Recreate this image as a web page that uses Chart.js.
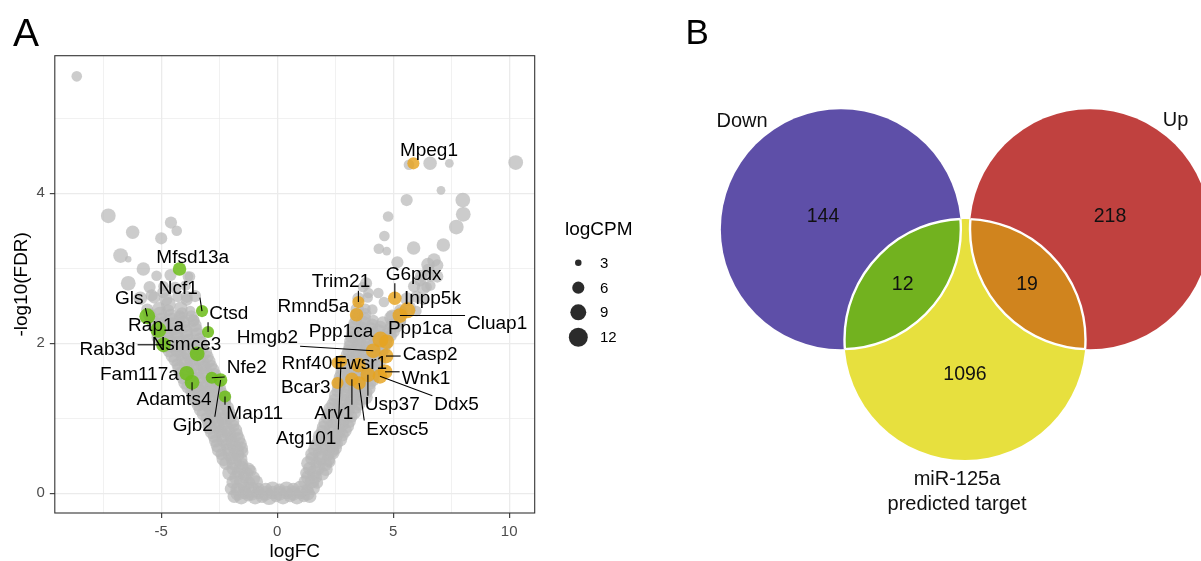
<!DOCTYPE html>
<html>
<head>
<meta charset="utf-8">
<script src="https://cdn.jsdelivr.net/npm/chart.js"></script>
<style>
  html, body { margin: 0; padding: 0; background: #fff; }
  #wrap { position: relative; width: 1201px; height: 561px; overflow: hidden; }
  #volcano { position: absolute; left: 0; top: 0; width: 660px; height: 561px; }
  #venn { position: absolute; left: 660px; top: 0; width: 541px; height: 561px; }
</style>
</head>
<body>
<div id="wrap">
  <canvas id="volcano" width="660" height="561"></canvas>
  <canvas id="venn" width="541" height="561"></canvas>
</div>
<script>
var FONT = '"Liberation Sans", Arial, Helvetica, sans-serif';

// ---- panel A: volcano, [logFC, -log10(FDR), logCPM]
var grayPoints = [
  // bottom of the V
  [-1.85,-0.04,7],[-1.55,-0.05,8],[-1.25,-0.03,6],[-0.95,-0.05,8],[-0.65,-0.04,7],[-0.35,-0.05,9],[-0.05,-0.04,6],[0.25,-0.05,8],[0.55,-0.03,7],[0.85,-0.05,8],[1.15,-0.04,6],[1.4,-0.04,7],
  [-1.7,0.0,8],[-1.4,0.01,7],[-1.1,0.0,8],[-0.8,0.01,7],[-0.5,0.0,8],[-0.2,0.01,7],[0.1,0.0,8],[0.4,0.01,7],[0.7,0.0,8],[1.0,0.01,7],[1.3,0.0,8],
  [-2.0,0.06,6],[-1.7,0.05,8],[-1.4,0.07,7],[-1.1,0.05,9],[-0.8,0.06,6],[-0.5,0.05,7],[-0.2,0.06,8],[0.1,0.05,6],[0.4,0.06,8],[0.7,0.05,7],[1.0,0.06,9],[1.3,0.05,6],[1.55,0.07,7],
  // left arm
  [-1.9,0.15,7],[-1.55,0.16,8],[-1.2,0.14,6],[-0.9,0.15,7],
  [-1.75,0.21,8],[-1.4,0.22,7],[-1.05,0.2,8],
  [-2.05,0.27,8],[-1.7,0.28,6],[-1.35,0.26,8],[-1.15,0.3,6],
  [-1.9,0.33,7],[-1.55,0.34,8],[-1.25,0.32,7],
  [-2.2,0.4,7],[-1.85,0.41,9],[-1.5,0.39,6],
  [-2.3,0.46,8],[-1.95,0.47,7],[-1.6,0.45,8],
  [-2.4,0.52,6],[-2.05,0.53,8],[-1.7,0.51,7],[-1.5,0.55,6],
  [-2.5,0.58,8],[-2.1,0.59,7],[-1.75,0.57,8],[-1.55,0.6,7],
  [-2.55,0.64,8],[-2.2,0.65,6],[-1.85,0.63,8],[-1.6,0.66,7],
  [-2.65,0.7,7],[-2.3,0.71,8],[-1.95,0.69,7],[-1.7,0.72,8],
  [-2.7,0.76,7],[-2.35,0.77,8],[-2.0,0.75,6],[-1.75,0.78,7],
  [-2.8,0.82,8],[-2.45,0.83,7],[-2.1,0.81,8],[-1.8,0.84,7],
  [-2.9,0.88,8],[-2.55,0.89,7],[-2.2,0.87,9],[-1.88,0.9,6],
  [-2.95,0.94,7],[-2.6,0.95,8],[-2.25,0.93,7],[-1.95,0.96,8],
  [-3.05,1.0,6],[-2.7,1.01,8],[-2.35,0.99,7],[-2.0,1.02,6],
  [-3.15,1.06,8],[-2.8,1.07,7],[-2.45,1.05,8],[-2.1,1.08,7],
  [-3.28,1.12,8],[-2.92,1.13,6],[-2.55,1.11,8],[-2.15,1.14,7],
  [-3.4,1.18,7],[-3.05,1.19,8],[-2.7,1.17,7],[-2.3,1.2,8],
  [-3.5,1.24,7],[-3.15,1.25,9],[-2.8,1.23,6],[-2.45,1.26,8],[-2.25,1.22,6],
  [-3.6,1.3,8],[-3.25,1.31,7],[-2.9,1.29,8],[-2.55,1.32,7],[-2.3,1.28,8],
  [-3.7,1.36,6],[-3.35,1.37,8],[-3.0,1.35,7],[-2.65,1.38,8],[-2.4,1.34,6],
  [-3.85,1.42,7],[-3.5,1.43,8],[-3.15,1.41,7],[-2.8,1.44,8],[-2.5,1.4,7],
  [-3.95,1.48,8],[-3.6,1.49,6],[-3.25,1.47,8],[-2.9,1.5,7],[-2.55,1.46,6],
  [-4.05,1.54,7],[-3.7,1.55,8],[-3.35,1.53,7],[-3.0,1.56,8],[-2.65,1.52,7],
  [-4.15,1.6,7],[-3.8,1.61,8],[-3.45,1.59,6],[-3.1,1.62,8],[-2.7,1.58,7],
  [-4.2,1.66,8],[-3.85,1.67,7],[-3.5,1.65,8],[-3.15,1.68,7],[-2.8,1.64,8],
  [-4.3,1.72,6],[-3.95,1.73,8],[-3.6,1.71,7],[-3.25,1.74,9],[-2.85,1.7,6],
  [-4.4,1.78,7],[-4.05,1.79,8],[-3.7,1.77,7],[-3.35,1.8,8],[-2.95,1.76,7],
  [-4.5,1.84,8],[-4.15,1.85,6],[-3.8,1.83,8],[-3.4,1.86,7],[-3.0,1.82,6],
  [-4.65,1.9,7],[-4.3,1.91,8],[-3.95,1.89,7],[-3.55,1.92,8],[-3.1,1.88,7],
  [-4.85,1.96,7],[-4.5,1.97,8],[-4.1,1.95,6],[-3.7,1.98,8],[-3.2,1.94,6],
  [-4.95,2.02,8],[-4.6,2.03,7],[-4.2,2.01,8],[-3.8,2.04,7],[-3.3,2.0,8],
  [-5.1,2.08,8],[-4.7,2.09,6],[-4.3,2.07,8],[-3.9,2.1,7],[-3.35,2.06,6],
  [-5.15,2.14,7],[-4.75,2.15,8],[-4.35,2.13,7],[-3.95,2.16,8],[-3.45,2.12,7],
  [-5.25,2.2,6],[-4.85,2.21,8],[-4.45,2.19,7],[-4.0,2.22,6],[-3.5,2.18,7],
  [-5.3,2.26,8],[-4.9,2.27,7],[-4.5,2.25,8],[-4.05,2.28,7],[-3.55,2.24,7],
  [-5.4,2.32,7],[-5.0,2.33,6],[-4.55,2.31,8],[-4.1,2.34,6],[-3.6,2.3,6],
  [-5.5,2.38,7],[-5.05,2.39,8],[-4.6,2.37,7],[-4.1,2.4,6],[-3.7,2.36,6],
  [-5.6,2.45,6],[-5.1,2.46,7],[-4.7,2.44,6],[-4.15,2.47,7],[-3.75,2.43,5],
  [-5.9,2.6,7],[-5.3,2.61,6],[-4.8,2.59,7],[-4.3,2.62,5],[-3.9,2.58,6],
  [-5.5,2.75,6],[-4.9,2.76,5],[-4.4,2.74,6],[-3.95,2.77,5],
  [-5.2,2.9,5],[-4.6,2.91,6],[-3.85,2.89,5],
  // right arm
  [1.2,0.15,7],[1.5,0.16,8],[1.72,0.14,6],
  [1.35,0.21,8],[1.65,0.22,7],
  [1.25,0.27,6],[1.6,0.28,8],[1.95,0.26,7],
  [1.4,0.33,7],[1.75,0.34,8],[2.1,0.32,7],
  [1.35,0.4,8],[1.7,0.41,6],[2.05,0.39,8],[2.25,0.42,6],
  [1.5,0.46,7],[1.85,0.47,8],[2.2,0.45,7],
  [1.5,0.52,7],[1.85,0.53,8],[2.2,0.51,6],[2.4,0.54,7],
  [1.65,0.58,8],[2.0,0.59,7],[2.35,0.57,8],[2.5,0.6,7],
  [1.65,0.64,6],[2.0,0.65,8],[2.35,0.63,7],[2.57,0.66,6],
  [1.8,0.7,7],[2.15,0.71,8],[2.45,0.69,7],[2.7,0.72,8],
  [1.85,0.76,8],[2.2,0.77,6],[2.5,0.75,8],[2.8,0.78,7],
  [1.95,0.82,7],[2.3,0.83,8],[2.65,0.81,7],[2.9,0.84,8],
  [2.0,0.88,7],[2.35,0.89,8],[2.7,0.87,6],[3.0,0.9,8],
  [2.1,0.94,8],[2.45,0.95,7],[2.8,0.93,8],[3.1,0.96,7],
  [2.15,1.0,6],[2.5,1.01,8],[2.85,0.99,7],[3.2,1.02,6],
  [2.25,1.06,7],[2.6,1.07,8],[2.95,1.05,7],[3.3,1.08,8],
  [2.3,1.12,8],[2.65,1.13,7],[3.0,1.11,9],[3.4,1.14,6],
  [2.4,1.18,7],[2.75,1.19,8],[3.1,1.17,7],[3.5,1.2,8],
  [2.5,1.24,7],[2.85,1.25,6],[3.2,1.23,8],[3.6,1.26,7],
  [2.55,1.3,8],[2.9,1.31,7],[3.25,1.29,8],[3.6,1.32,7],[3.8,1.28,8],
  [2.6,1.36,6],[2.95,1.37,8],[3.3,1.35,7],[3.65,1.38,8],[3.85,1.34,6],
  [2.65,1.42,7],[3.0,1.43,8],[3.35,1.41,7],[3.7,1.44,8],[3.95,1.4,7],
  [2.7,1.48,8],[3.05,1.49,6],[3.4,1.47,8],[3.75,1.5,7],[4.0,1.46,6],
  [2.75,1.54,8],[3.1,1.55,7],[3.45,1.53,8],[3.8,1.56,7],[4.1,1.52,8],
  [2.8,1.6,7],[3.15,1.61,8],[3.5,1.59,6],[3.85,1.62,8],[4.15,1.58,7],
  [2.85,1.66,8],[3.2,1.67,7],[3.55,1.65,8],[3.9,1.68,7],[4.25,1.64,8],
  [2.95,1.72,6],[3.3,1.73,8],[3.65,1.71,7],[4.0,1.74,9],[4.3,1.7,6],
  [3.0,1.78,7],[3.35,1.79,8],[3.7,1.77,7],[4.05,1.8,8],[4.4,1.76,7],
  [3.05,1.84,8],[3.4,1.85,6],[3.75,1.83,8],[4.1,1.86,7],[4.45,1.82,6],
  [3.1,1.9,7],[3.45,1.91,8],[3.8,1.89,7],[4.15,1.92,8],[4.5,1.88,7],
  [3.15,1.96,7],[3.5,1.97,8],[3.85,1.95,6],[4.2,1.98,8],[4.6,1.94,7],
  [3.2,2.02,8],[3.55,2.03,7],[3.9,2.01,8],[4.25,2.04,7],[4.65,2.0,8],
  [3.2,2.08,6],[3.55,2.09,8],[3.9,2.07,7],[4.3,2.1,6],[4.65,2.06,8],[4.9,2.1,6],
  [3.25,2.14,7],[3.6,2.15,8],[3.95,2.13,7],[4.35,2.16,8],[4.75,2.12,7],[5.0,2.16,7],
  [3.3,2.2,8],[3.65,2.21,6],[4.05,2.19,7],[4.45,2.22,6],[4.85,2.18,7],[5.15,2.22,6],
  [3.35,2.26,7],[3.7,2.27,8],[4.1,2.25,6],[4.55,2.28,6],[4.95,2.24,7],[5.25,2.28,7],
  [3.4,2.32,6],[3.75,2.33,7],[4.15,2.31,5],[4.9,2.34,7],[5.3,2.3,6],
  [3.45,2.38,7],[3.8,2.39,6],[4.95,2.37,6],[5.35,2.4,7],
  [3.45,2.45,7],[3.8,2.46,5],[5.3,2.44,6],[5.7,2.47,7],[6.0,2.43,5],
  [3.5,2.6,6],[3.9,2.61,5],[5.6,2.59,7],[6.0,2.62,6],[6.3,2.58,5],
  [3.7,2.75,5],[5.9,2.76,6],[6.3,2.74,7],[6.6,2.77,5],
  [6.2,2.9,6],[6.6,2.91,7],[6.9,2.89,6],
  [6.5,3.05,7],[6.9,3.04,6],
  // scattered genes, left
  [-8.64,5.56,5],[-7.28,3.7,8],[-6.23,3.48,7],[-4.58,3.61,6],[-4.33,3.5,5],[-5.0,3.4,6],
  [-6.75,3.17,8],[-6.42,3.12,3],[-5.77,2.99,7],[-6.42,2.8,8],[-5.41,2.64,6],[-4.69,2.52,8],
  [-3.9,2.62,6],[-3.54,2.63,6],[-3.76,2.89,5],[-4.91,2.68,6],[-4.19,2.36,6],[-3.62,2.31,6],
  // scattered genes, right
  [5.68,4.38,5],[6.59,4.4,7],[7.42,4.4,4],[10.28,4.41,8],[7.06,4.04,4],[5.58,3.91,6],
  [8.0,3.91,8],[8.02,3.72,8],[7.72,3.55,8],[4.78,3.69,5],[4.62,3.43,5],[5.88,3.27,7],
  [7.16,3.31,7],[4.38,3.26,5],[4.72,3.23,4],[6.76,3.11,7],[6.51,2.98,6],[5.18,3.08,6],
  [3.83,2.8,6],[3.93,2.67,5],[4.36,2.67,5],[6.16,2.84,6],[6.44,2.75,5],[4.6,2.55,5],[4.1,2.45,5]
];

// down-regulated predicted targets (green)
var downNames = ['Mfsd13a', 'Ncf1', 'Gls', 'Ctsd', 'Rap1a', 'Rab3d', 'Nsmce3', 'Fam117a', 'Adamts4', 'Nfe2', 'Gjb2', 'Map11'];
var downLogFC = [-4.21, -3.24, -5.6, -2.98, -5.12, -4.9, -3.45, -3.9, -3.67, -2.82, -2.44, -2.25];
var downFDR = [2.99, 2.43, 2.36, 2.15, 2.18, 1.98, 1.86, 1.6, 1.48, 1.54, 1.51, 1.29];
var downCPM = [7, 6, 9, 6, 9, 8, 8, 8, 8, 6, 7, 6];
var downLabelX = [-3.64, -4.26, -6.38, -2.09, -5.22, -7.31, -3.91, -5.94, -4.45, -1.31, -3.64, -0.97];
var downLabelY = [3.14, 2.73, 2.59, 2.4, 2.23, 1.91, 1.98, 1.58, 1.25, 1.67, 0.9, 1.06];

// up-regulated predicted targets (orange)
var upNames = ['Mpeg1', 'Trim21', 'G6pdx', 'Inpp5k', 'Rmnd5a', 'Cluap1', 'Ppp1ca', 'Ppp1ca', 'Hmgb2', 'Casp2',
  'Rnf40', 'Ewsr1', 'Wnk1', 'Bcar3', 'Ddx5', 'Usp37', 'Arv1', 'Exosc5', 'Atg101'];
var upLogFC = [5.87, 3.5, 5.07, 5.61, 3.42, 5.29, 4.45, 4.72, 4.14, 4.69, 2.6, 3.5, 4.65, 2.6, 4.43, 3.91, 3.22, 3.53, 2.75];
var upFDR = [4.4, 2.55, 2.6, 2.44, 2.38, 2.37, 2.05, 2.02, 1.9, 1.83, 1.74, 1.71, 1.62, 1.47, 1.56, 1.58, 1.52, 1.47, 1.76];
var upCPM = [6, 6, 7, 9, 7, 8, 9, 8, 8, 8, 6, 8, 8, 6, 8, 8, 7, 7, 6];
var upLabelX = [6.54, 2.75, 5.88, 6.69, 1.56, 9.48, 2.75, 6.16, -0.42, 6.59, 1.28, 3.6, 6.41, 1.23, 7.73, 4.96, 2.44, 5.18, 1.25];
var upLabelY = [4.57, 2.82, 2.92, 2.59, 2.49, 2.26, 2.15, 2.2, 2.08, 1.85, 1.73, 1.73, 1.53, 1.41, 1.18, 1.18, 1.06, 0.85, 0.73];

var xTicks = [-7.5, -5, -2.5, 0, 2.5, 5, 7.5, 10];
var yTicks = [0, 1, 2, 3, 4, 5];
var legendCPM = [3, 6, 9, 12];

// ---- panel B: Venn
var vennSets = ['Down', 'Up', 'miR-125a', 'predicted target'];
var vennCounts = [144, 218, 1096, 12, 19];   // down only, up only, target only, down & target, up & target

// layout of the Venn (canvas units)
var vennCX = [180.85, 430, 305], vennCY = [229.2, 229.2, 339.5], vennR = [120, 120, 120.5];
var vennColors = ['#5E4FA8', '#C0413F', '#E7E03E'];
var vennCountX = [163, 450, 305, 242.7, 367], vennCountY = [216.7, 216.7, 374.3, 285, 284.3];
var vennSetX = [82, 515.5, 297, 297], vennSetY = [121.7, 120, 479, 504.3];

function sizeOf(cpm) { return Math.sqrt(Math.max(0.5, 8.8 * (cpm - 1.8))); }

function toPts(xs, ys, cs) {
  return xs.map(function (x, i) { return { x: x, y: ys[i], cpm: cs[i] }; });
}

function isMajorX(v) { return Math.abs(v % 5) < 1e-9; }
function isMajorY(v) { return Math.abs(v % 2) < 1e-9; }

function drawGeneLabels(ctx, xs, ys, names, fc, fdr, lx, ly) {
  ctx.font = '19px ' + FONT;
  ctx.strokeStyle = '#000';
  ctx.lineWidth = 1.1;
  for (var i = 0; i < names.length; i++) {
    var px = xs.getPixelForValue(fc[i]), py = ys.getPixelForValue(fdr[i]);
    var cx = xs.getPixelForValue(lx[i]), cy = ys.getPixelForValue(ly[i]);
    var w = ctx.measureText(names[i]).width / 2 + 2, h = 9;
    var qx = Math.min(Math.max(px, cx - w), cx + w);
    var qy = Math.min(Math.max(py, cy - h), cy + h);
    if (Math.hypot(px - qx, py - qy) > 6) {
      ctx.beginPath(); ctx.moveTo(qx, qy); ctx.lineTo(px, py); ctx.stroke();
    }
  }
  ctx.fillStyle = '#000';
  ctx.textAlign = 'center';
  ctx.textBaseline = 'middle';
  for (var j = 0; j < names.length; j++) {
    ctx.fillText(names[j], xs.getPixelForValue(lx[j]), ys.getPixelForValue(ly[j]));
  }
}

var volcanoDecor = {
  id: 'volcanoDecor',
  afterDatasetsDraw: function (chart) {
    var ctx = chart.ctx, xs = chart.scales.x, ys = chart.scales.y;
    ctx.save();
    drawGeneLabels(ctx, xs, ys, downNames, downLogFC, downFDR, downLabelX, downLabelY);
    drawGeneLabels(ctx, xs, ys, upNames, upLogFC, upFDR, upLabelX, upLabelY);
    ctx.restore();
  },
  afterDraw: function (chart) {
    var ctx = chart.ctx, a = chart.chartArea;
    ctx.save();
    ctx.strokeStyle = '#333';
    ctx.lineWidth = 1.1;
    ctx.strokeRect(a.left, a.top, a.right - a.left, a.bottom - a.top);

    // size legend
    ctx.fillStyle = '#000';
    ctx.textAlign = 'left';
    ctx.textBaseline = 'middle';
    ctx.font = '19px ' + FONT;
    ctx.fillText('logCPM', 565, 230);
    var ly = [262.7, 287.7, 312.3, 337.3];
    ctx.font = '15px ' + FONT;
    legendCPM.forEach(function (v, i) {
      ctx.beginPath();
      ctx.arc(578.3, ly[i], sizeOf(v), 0, Math.PI * 2);
      ctx.fillStyle = 'rgba(20,20,20,0.9)';
      ctx.fill();
      ctx.fillStyle = '#000';
      ctx.fillText(String(v), 600, ly[i] + 1);
    });

    ctx.font = '39px ' + FONT;
    ctx.textBaseline = 'alphabetic';
    ctx.fillText('A', 13, 46);
    ctx.restore();
  }
};

new Chart(document.getElementById('volcano'), {
  type: 'scatter',
  data: {
    datasets: [
      { data: grayPoints.map(function (p) { return { x: p[0], y: p[1], cpm: p[2] }; }),
        backgroundColor: 'rgba(185,185,185,0.72)', order: 3 },
      { data: toPts(downLogFC, downFDR, downCPM), backgroundColor: 'rgba(112,190,30,0.88)', order: 2 },
      { data: toPts(upLogFC, upFDR, upCPM), backgroundColor: 'rgba(230,163,32,0.82)', order: 1 }
    ]
  },
  options: {
    responsive: false,
    animation: false,
    events: [],
    layout: { padding: { left: 0, top: 55.7, right: 125.3, bottom: 0 } },
    elements: {
      point: {
        radius: function (c) { return c.raw ? sizeOf(c.raw.cpm) : 3; },
        borderWidth: 0
      }
    },
    plugins: { legend: { display: false }, tooltip: { enabled: false } },
    scales: {
      x: {
        type: 'linear', min: -9.586, max: 11.099,
        afterBuildTicks: function (s) { s.ticks = xTicks.map(function (v) { return { value: v }; }); },
        afterFit: function (s) { s.height = 48; },
        border: { display: false },
        grid: {
          color: '#EBEBEB',
          lineWidth: function (c) { return c.tick && isMajorX(c.tick.value) ? 1.3 : 0.7; },
          tickLength: 5, tickWidth: 1.1,
          tickColor: function (c) { return c.tick && isMajorX(c.tick.value) ? '#333' : 'rgba(0,0,0,0)'; }
        },
        ticks: {
          autoSkip: false, maxRotation: 0, padding: 5, color: '#4D4D4D',
          font: { family: FONT, size: 15 },
          callback: function (v) { return isMajorX(v) ? String(v) : ''; }
        },
        title: { display: true, text: 'logFC', color: '#000', font: { family: FONT, size: 19, lineHeight: 1 }, padding: 0 }
      },
      y: {
        type: 'linear', min: -0.263, max: 5.835,
        afterBuildTicks: function (s) { s.ticks = yTicks.map(function (v) { return { value: v }; }); },
        afterFit: function (s) { s.width = 54.8; },
        border: { display: false },
        grid: {
          color: '#EBEBEB',
          lineWidth: function (c) { return c.tick && isMajorY(c.tick.value) ? 1.3 : 0.7; },
          tickLength: 5, tickWidth: 1.1,
          tickColor: function (c) { return c.tick && isMajorY(c.tick.value) ? '#333' : 'rgba(0,0,0,0)'; }
        },
        ticks: {
          autoSkip: false, padding: 5, color: '#4D4D4D',
          font: { family: FONT, size: 15 },
          callback: function (v) { return isMajorY(v) ? String(v) : ''; }
        },
        title: { display: true, text: '-log10(FDR)', color: '#000', font: { family: FONT, size: 19, lineHeight: 1 }, padding: { top: 12.5, bottom: 0 } }
      }
    }
  },
  plugins: [volcanoDecor]
});

// ---- Venn: set centres are the dataset, discs drawn around them
var vennDecor = {
  id: 'vennDecor',
  beforeDatasetsDraw: function (chart) {
    var ctx = chart.ctx, xs = chart.scales.x, ys = chart.scales.y;
    var pts = chart.getDatasetMeta(0).data;
    function circle(i) {
      var r = xs.getPixelForValue(vennCX[i] + vennR[i]) - pts[i].x;
      ctx.beginPath();
      ctx.arc(pts[i].x, pts[i].y, r, 0, Math.PI * 2);
    }
    function lens(a, b, fill) {
      ctx.save(); circle(b); ctx.clip(); circle(a); ctx.fillStyle = fill; ctx.fill(); ctx.restore();
      ctx.strokeStyle = '#fff'; ctx.lineWidth = 2.4;
      ctx.save(); circle(a); ctx.clip(); circle(b); ctx.stroke(); ctx.restore();
      ctx.save(); circle(b); ctx.clip(); circle(a); ctx.stroke(); ctx.restore();
    }
    ctx.save();
    for (var i = 0; i < 3; i++) {
      circle(i);
      ctx.fillStyle = vennColors[i];
      ctx.fill();
    }
    lens(0, 2, '#72B21F');
    lens(1, 2, '#D0841E');

    ctx.fillStyle = '#111';
    ctx.textAlign = 'center';
    ctx.textBaseline = 'middle';
    ctx.font = '19.5px ' + FONT;
    vennCounts.forEach(function (n, k) {
      ctx.fillText(String(n), xs.getPixelForValue(vennCountX[k]), ys.getPixelForValue(vennCountY[k]));
    });
    ctx.font = '20px ' + FONT;
    vennSets.forEach(function (s, k) {
      ctx.fillText(s, xs.getPixelForValue(vennSetX[k]), ys.getPixelForValue(vennSetY[k]));
    });

    ctx.textAlign = 'left';
    ctx.textBaseline = 'alphabetic';
    ctx.fillStyle = '#000';
    ctx.font = '35px ' + FONT;
    ctx.fillText('B', 25.5, 44);
    ctx.restore();
  }
};

new Chart(document.getElementById('venn'), {
  type: 'scatter',
  data: {
    datasets: [{
      data: vennCX.map(function (x, i) { return { x: x, y: vennCY[i] }; }),
      pointRadius: 0,
      borderWidth: 0
    }]
  },
  options: {
    responsive: false,
    animation: false,
    events: [],
    layout: { padding: 0 },
    plugins: { legend: { display: false }, tooltip: { enabled: false } },
    scales: {
      x: { type: 'linear', min: 0, max: 541, display: false },
      y: { type: 'linear', min: 0, max: 561, reverse: true, display: false }
    }
  },
  plugins: [vennDecor]
});
</script>
</body>
</html>
